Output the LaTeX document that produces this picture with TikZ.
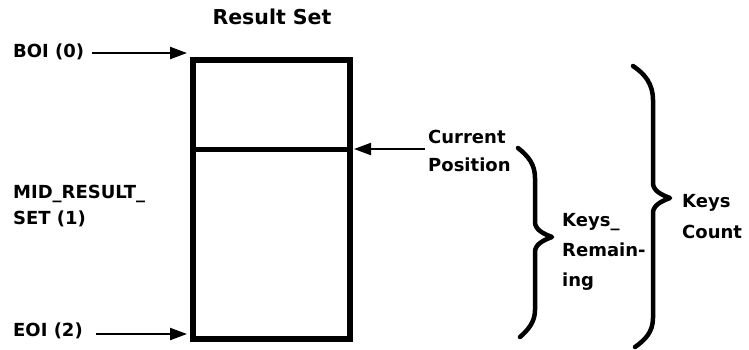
\documentclass[tikz,border=0pt]{standalone}
\usepackage{fontspec}
\setmainfont{DejaVu Sans}
\usetikzlibrary{arrows.meta}
\begin{document}
\begin{tikzpicture}[x=1pt,y=-1pt,
  lbl/.style={font=\bfseries\fontsize{18}{28}\selectfont, inner sep=1pt, align=left, anchor=west},
  ptr/.style={line width=2.2pt, -{Triangle[length=17pt,width=12pt]}},
  brace/.style={line width=4.5pt, line cap=round, line join=round}]
  \useasboundingbox (0,0) rectangle (749,349);

  % result set column
  \node[draw, line width=5.5pt, minimum width=157pt, minimum height=279pt, inner sep=0pt] (box) at (271.5,199.5) {};
  \node[font=\bfseries\fontsize{20.5}{22}\selectfont, inner sep=1pt] (title) at (272,17) {Result Set};
  \coordinate (midL) at (193,149.5);
  \coordinate (midR) at (350,149.5);
  \draw[line width=5pt] (midL) -- (midR);

  % position labels on the left
  \node[lbl] (boi) at (12,52) {BOI (0)};
  \node[lbl, font=\bfseries\fontsize{18}{25}\selectfont] (mid) at (12,206) {MID\_RESULT\_\\SET (1)};
  \node[lbl] (eoi) at (12,331) {EOI (2)};
  \coordinate (boitip) at (187,53);
  \coordinate (eoitip) at (187,334);
  \draw[ptr] ([xshift=7pt]boi.east |- boitip) -- (boitip);
  \draw[ptr] ([xshift=12pt]eoi.east |- eoitip) -- (eoitip);

  % current position
  \node[lbl] (cur) at (427,151) {Current\\Position};
  \coordinate (curtip) at (354,149);
  \draw[ptr] ([xshift=-2pt]cur.west |- curtip) -- (curtip);

  % Keys_Remaining brace
  \draw[brace] (518,148) .. controls (528,156) and (535,164) .. (535,178)
    -- (535,222) .. controls (535,230) and (544,234) .. (552,237)
    .. controls (544,240) and (535,244) .. (535,252)
    -- (535,310) .. controls (535,322) and (528,330) .. (520,337);
  \node[lbl, font=\bfseries\fontsize{18}{30}\selectfont] (rem) at (561,252) {Keys\_\\Remain-\\ing};

  % Keys Count brace
  \draw[brace] (633,66) .. controls (645,74) and (653,84) .. (653,100)
    -- (653,183) .. controls (653,191) and (662,195) .. (670,198)
    .. controls (662,201) and (653,205) .. (653,213)
    -- (653,318) .. controls (653,332) and (645,340) .. (635,347);
  \node[lbl, font=\bfseries\fontsize{18}{31}\selectfont] (cnt) at (681,217) {Keys\\Count};
\end{tikzpicture}
\end{document}
